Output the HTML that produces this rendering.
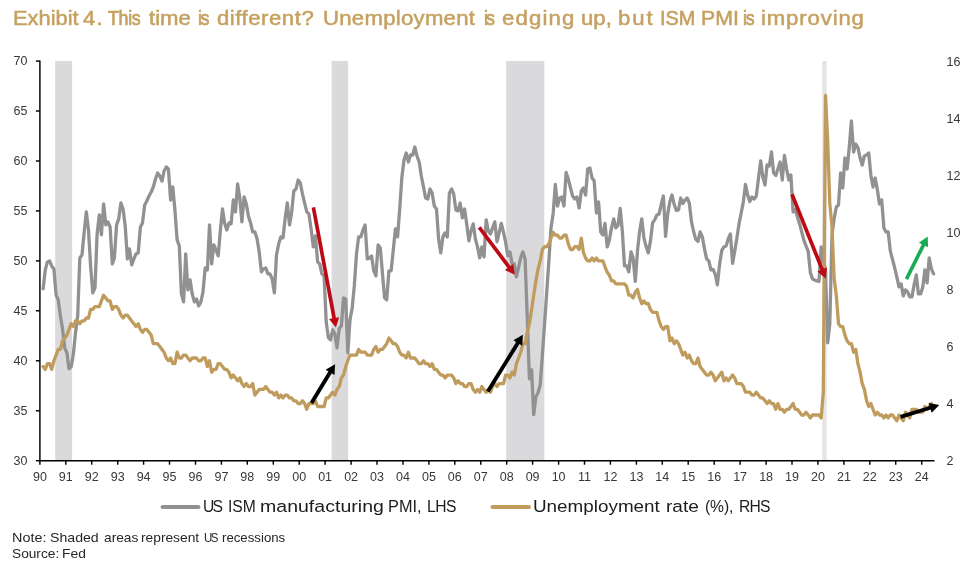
<!DOCTYPE html>
<html><head><meta charset="utf-8"><title>Exhibit 4</title>
<style>
html,body{margin:0;padding:0;background:#fff;}
body{width:972px;height:569px;overflow:hidden;position:relative;font-family:"Liberation Sans",sans-serif;}
.w{position:absolute;white-space:nowrap;line-height:normal;transform-origin:0 0;}
svg{position:absolute;left:0;top:0;will-change:transform;}
svg text{font-family:"Liberation Sans",sans-serif;font-size:12.5px;fill:#383838;}
</style></head><body>
<svg width="972" height="569" viewBox="0 0 972 569">
<rect x="55.2" y="61" width="16.9" height="399.7" fill="#dadadc"/><rect x="331.6" y="61" width="16.5" height="399.7" fill="#dadadc"/><rect x="506.2" y="61" width="38.1" height="399.7" fill="#dadadc"/><rect x="822.3" y="61" width="4.4" height="399.7" fill="#e4e4e6"/>
<g stroke="#000" stroke-width="1.45" fill="none">
<line x1="39.9" y1="60.5" x2="39.9" y2="460.7"/>
<line x1="39.2" y1="460.7" x2="934.5" y2="460.7"/>
<line x1="39.9" y1="460.7" x2="39.9" y2="464.7"/><line x1="65.8" y1="460.7" x2="65.8" y2="464.7"/><line x1="91.7" y1="460.7" x2="91.7" y2="464.7"/><line x1="117.7" y1="460.7" x2="117.7" y2="464.7"/><line x1="143.6" y1="460.7" x2="143.6" y2="464.7"/><line x1="169.5" y1="460.7" x2="169.5" y2="464.7"/><line x1="195.5" y1="460.7" x2="195.5" y2="464.7"/><line x1="221.4" y1="460.7" x2="221.4" y2="464.7"/><line x1="247.3" y1="460.7" x2="247.3" y2="464.7"/><line x1="273.3" y1="460.7" x2="273.3" y2="464.7"/><line x1="299.2" y1="460.7" x2="299.2" y2="464.7"/><line x1="325.1" y1="460.7" x2="325.1" y2="464.7"/><line x1="351.1" y1="460.7" x2="351.1" y2="464.7"/><line x1="377.0" y1="460.7" x2="377.0" y2="464.7"/><line x1="403.0" y1="460.7" x2="403.0" y2="464.7"/><line x1="428.9" y1="460.7" x2="428.9" y2="464.7"/><line x1="454.8" y1="460.7" x2="454.8" y2="464.7"/><line x1="480.8" y1="460.7" x2="480.8" y2="464.7"/><line x1="506.7" y1="460.7" x2="506.7" y2="464.7"/><line x1="532.6" y1="460.7" x2="532.6" y2="464.7"/><line x1="558.6" y1="460.7" x2="558.6" y2="464.7"/><line x1="584.5" y1="460.7" x2="584.5" y2="464.7"/><line x1="610.4" y1="460.7" x2="610.4" y2="464.7"/><line x1="636.4" y1="460.7" x2="636.4" y2="464.7"/><line x1="662.3" y1="460.7" x2="662.3" y2="464.7"/><line x1="688.2" y1="460.7" x2="688.2" y2="464.7"/><line x1="714.2" y1="460.7" x2="714.2" y2="464.7"/><line x1="740.1" y1="460.7" x2="740.1" y2="464.7"/><line x1="766.1" y1="460.7" x2="766.1" y2="464.7"/><line x1="792.0" y1="460.7" x2="792.0" y2="464.7"/><line x1="817.9" y1="460.7" x2="817.9" y2="464.7"/><line x1="843.9" y1="460.7" x2="843.9" y2="464.7"/><line x1="869.8" y1="460.7" x2="869.8" y2="464.7"/><line x1="895.7" y1="460.7" x2="895.7" y2="464.7"/><line x1="921.7" y1="460.7" x2="921.7" y2="464.7"/><line x1="35.9" y1="460.7" x2="39.9" y2="460.7"/><line x1="35.9" y1="410.8" x2="39.9" y2="410.8"/><line x1="35.9" y1="360.8" x2="39.9" y2="360.8"/><line x1="35.9" y1="310.8" x2="39.9" y2="310.8"/><line x1="35.9" y1="260.9" x2="39.9" y2="260.9"/><line x1="35.9" y1="210.9" x2="39.9" y2="210.9"/><line x1="35.9" y1="161.0" x2="39.9" y2="161.0"/><line x1="35.9" y1="111.0" x2="39.9" y2="111.0"/><line x1="35.9" y1="61.1" x2="39.9" y2="61.1"/>
</g>
<path d="M43.1 288.9 L45.3 269.9 L47.4 261.9 L49.6 260.9 L51.7 265.9 L53.9 268.9 L56.1 294.9 L58.2 299.9 L60.4 315.8 L62.5 328.8 L64.7 347.8 L66.9 352.8 L69.0 368.8 L71.2 366.8 L73.4 353.8 L75.5 332.8 L77.7 315.8 L79.8 257.9 L82.0 254.9 L84.2 231.9 L86.3 211.9 L88.5 229.9 L90.6 265.9 L92.8 292.9 L95.0 287.9 L97.1 233.9 L99.3 214.9 L101.4 234.9 L103.6 204.0 L105.8 224.9 L107.9 221.9 L110.1 226.9 L112.3 263.9 L114.4 257.9 L116.6 224.9 L118.7 218.9 L120.9 203.0 L123.1 209.0 L125.2 225.9 L127.4 258.9 L129.5 248.9 L131.7 264.9 L133.9 258.9 L136.0 253.9 L138.2 252.9 L140.4 226.9 L142.5 222.9 L144.7 205.0 L146.8 201.0 L149.0 196.0 L151.2 192.0 L153.3 187.0 L155.5 179.0 L157.6 173.0 L159.8 176.0 L162.0 181.0 L164.1 171.0 L166.3 167.0 L168.4 169.0 L170.6 200.0 L172.8 187.0 L174.9 210.0 L177.1 239.9 L179.3 245.9 L181.4 293.9 L183.6 301.9 L185.7 253.9 L187.9 289.9 L190.1 279.9 L192.2 293.9 L194.4 301.9 L196.5 298.9 L198.7 305.9 L200.9 301.9 L203.0 291.9 L205.2 267.9 L207.4 269.9 L209.5 224.9 L211.7 263.9 L213.8 244.9 L216.0 249.9 L218.2 255.9 L220.3 230.9 L222.5 209.0 L224.6 222.9 L226.8 229.9 L229.0 222.9 L231.1 223.9 L233.3 200.0 L235.5 211.9 L237.6 184.0 L239.8 198.0 L241.9 221.9 L244.1 197.0 L246.3 204.0 L248.4 215.9 L250.6 222.9 L252.7 231.9 L254.9 231.9 L257.1 238.9 L259.2 251.9 L261.4 271.9 L263.5 268.9 L265.7 267.9 L267.9 273.9 L270.0 273.9 L272.2 278.9 L274.4 292.9 L276.5 254.9 L278.7 243.9 L280.8 236.9 L283.0 237.9 L285.2 217.9 L287.3 203.0 L289.5 224.9 L291.6 212.9 L293.8 191.0 L296.0 189.0 L298.1 180.0 L300.3 183.0 L302.5 194.0 L304.6 203.0 L306.8 211.9 L308.9 213.9 L311.1 228.9 L313.3 246.9 L315.4 235.9 L317.6 261.9 L319.7 263.9 L321.9 273.9 L324.1 275.9 L326.2 321.8 L328.4 337.8 L330.5 339.8 L332.7 329.8 L334.9 333.8 L337.0 347.8 L339.2 328.8 L341.4 325.8 L343.5 297.9 L345.7 298.9 L347.8 352.8 L350.0 319.8 L352.2 307.9 L354.3 285.9 L356.5 253.9 L358.6 236.9 L360.8 236.9 L363.0 229.9 L365.1 224.9 L367.3 258.9 L369.5 257.9 L371.6 255.9 L373.8 270.9 L375.9 275.9 L378.1 244.9 L380.3 247.9 L382.4 272.9 L384.6 297.9 L386.7 299.9 L388.9 270.9 L391.1 270.9 L393.2 250.9 L395.4 228.9 L397.6 236.9 L399.7 209.0 L401.9 177.0 L404.0 160.0 L406.2 153.0 L408.4 162.0 L410.5 155.0 L412.7 155.0 L414.8 147.0 L417.0 156.0 L419.2 162.0 L421.3 176.0 L423.5 187.0 L425.6 198.0 L427.8 199.0 L430.0 189.0 L432.1 193.0 L434.3 206.0 L436.5 209.0 L438.6 238.9 L440.8 252.9 L442.9 236.9 L445.1 232.9 L447.3 236.9 L449.4 193.0 L451.6 189.0 L453.7 194.0 L455.9 210.0 L458.1 210.9 L460.2 203.0 L462.4 217.9 L464.6 209.0 L466.7 223.9 L468.9 240.9 L471.0 230.9 L473.2 223.9 L475.4 238.9 L477.5 246.9 L479.7 257.9 L481.8 246.9 L484.0 256.9 L486.2 219.9 L488.3 230.9 L490.5 233.9 L492.6 227.9 L494.8 221.9 L497.0 241.9 L499.1 232.9 L501.3 223.4 L503.5 232.4 L505.6 241.9 L507.8 255.9 L509.9 251.9 L512.1 263.9 L514.3 263.9 L516.4 276.9 L518.6 267.4 L520.7 257.9 L522.9 251.9 L525.1 258.9 L527.2 315.8 L529.4 378.8 L531.6 369.8 L533.7 414.7 L535.9 396.8 L538.0 392.8 L540.2 384.8 L542.4 354.8 L544.5 324.8 L546.7 292.9 L548.8 261.9 L551.0 227.9 L553.2 212.9 L555.3 184.5 L557.5 206.0 L559.7 198.0 L561.8 197.0 L564.0 206.0 L566.1 172.5 L568.3 179.0 L570.5 188.0 L572.6 196.0 L574.8 199.0 L576.9 197.0 L579.1 208.0 L581.3 191.0 L583.4 188.0 L585.6 195.0 L587.7 169.0 L589.9 168.0 L592.1 178.0 L594.2 181.0 L596.4 212.9 L598.6 202.0 L600.7 231.9 L602.9 234.9 L605.0 223.4 L607.2 246.9 L609.4 239.9 L611.5 227.9 L613.7 218.9 L615.8 227.9 L618.0 225.4 L620.2 208.5 L622.3 230.9 L624.5 265.9 L626.7 265.9 L628.8 271.9 L631.0 251.9 L633.1 257.9 L635.3 281.4 L637.5 250.9 L639.6 231.4 L641.8 218.9 L643.9 237.9 L646.1 246.4 L648.3 252.9 L650.4 241.4 L652.6 222.9 L654.7 219.9 L656.9 214.9 L659.1 213.9 L661.2 204.5 L663.4 196.0 L665.6 236.4 L667.7 213.9 L669.9 201.5 L672.0 195.0 L674.2 204.5 L676.4 210.5 L678.5 210.0 L680.7 198.0 L682.8 203.5 L685.0 200.0 L687.2 198.0 L689.3 203.0 L691.5 221.9 L693.7 231.9 L695.8 239.4 L698.0 241.4 L700.1 231.9 L702.3 236.9 L704.5 248.9 L706.6 258.9 L708.8 260.9 L710.9 269.9 L713.1 269.4 L715.3 274.4 L717.4 284.9 L719.6 263.9 L721.8 250.4 L723.9 246.9 L726.1 245.9 L728.2 238.9 L730.4 233.9 L732.6 263.4 L734.7 251.4 L736.9 237.9 L739.0 223.9 L741.2 212.9 L743.4 201.5 L745.5 184.5 L747.7 195.0 L749.8 201.5 L752.0 197.0 L754.2 199.0 L756.3 196.0 L758.5 178.0 L760.7 161.0 L762.8 177.0 L765.0 185.0 L767.1 165.0 L769.3 166.0 L771.5 152.0 L773.6 173.0 L775.8 175.5 L777.9 169.0 L780.1 162.0 L782.3 180.0 L784.4 155.5 L786.6 169.0 L788.8 180.0 L790.9 175.0 L793.1 211.9 L795.2 209.5 L797.4 216.9 L799.6 223.9 L801.7 231.9 L803.9 240.4 L806.0 245.9 L808.2 251.4 L810.4 272.9 L812.5 278.9 L814.7 279.9 L816.8 280.9 L819.0 281.4 L821.2 246.9 L823.3 259.9 L825.5 269.9 L827.7 342.8 L829.8 323.8 L832.0 234.9 L834.1 218.9 L836.3 207.0 L838.5 205.0 L840.6 173.0 L842.8 188.0 L844.9 158.0 L847.1 169.0 L849.3 147.0 L851.4 121.0 L853.6 152.0 L855.8 144.0 L857.9 147.5 L860.1 158.0 L862.2 165.0 L864.4 156.0 L866.6 155.0 L868.7 153.0 L870.9 175.5 L873.0 187.0 L875.2 178.0 L877.4 190.0 L879.5 204.0 L881.7 200.0 L883.9 227.9 L886.0 231.9 L888.2 231.9 L890.3 250.9 L892.5 259.4 L894.7 267.9 L896.8 276.9 L899.0 286.9 L901.1 283.9 L903.3 295.9 L905.5 289.9 L907.6 291.9 L909.8 296.9 L911.9 296.9 L914.1 284.9 L916.3 274.9 L918.4 293.9 L920.6 293.9 L922.8 286.9 L924.9 269.9 L927.1 282.9 L929.2 257.9 L931.4 268.9 L933.6 273.9" fill="none" stroke="#919191" stroke-width="3.3" stroke-linejoin="round" stroke-linecap="round"/>
<path d="M43.1 366.5 L45.3 369.4 L47.4 363.7 L49.6 363.7 L51.7 369.4 L53.9 360.8 L56.1 355.1 L58.2 349.4 L60.4 349.4 L62.5 340.8 L64.7 338.0 L66.9 335.1 L69.0 329.4 L71.2 323.7 L73.4 326.6 L75.5 320.9 L77.7 320.9 L79.8 323.7 L82.0 320.9 L84.2 320.9 L86.3 318.0 L88.5 318.0 L90.6 309.4 L92.8 309.4 L95.0 306.6 L97.1 306.6 L99.3 306.6 L101.4 300.9 L103.6 295.2 L105.8 298.0 L107.9 300.9 L110.1 300.9 L112.3 309.4 L114.4 306.6 L116.6 306.6 L118.7 309.4 L120.9 315.1 L123.1 318.0 L125.2 315.1 L127.4 315.1 L129.5 318.0 L131.7 320.9 L133.9 323.7 L136.0 326.6 L138.2 323.7 L140.4 329.4 L142.5 332.3 L144.7 329.4 L146.8 329.4 L149.0 332.3 L151.2 335.1 L153.3 343.7 L155.5 343.7 L157.6 343.7 L159.8 346.5 L162.0 349.4 L164.1 352.2 L166.3 358.0 L168.4 360.8 L170.6 358.0 L172.8 363.7 L174.9 363.7 L177.1 352.2 L179.3 358.0 L181.4 358.0 L183.6 355.1 L185.7 355.1 L187.9 358.0 L190.1 360.8 L192.2 358.0 L194.4 358.0 L196.5 358.0 L198.7 360.8 L200.9 360.8 L203.0 358.0 L205.2 358.0 L207.4 366.5 L209.5 360.8 L211.7 372.2 L213.8 369.4 L216.0 369.4 L218.2 363.7 L220.3 363.7 L222.5 366.5 L224.6 369.4 L226.8 369.4 L229.0 372.2 L231.1 377.9 L233.3 375.1 L235.5 377.9 L237.6 380.8 L239.8 377.9 L241.9 383.6 L244.1 386.5 L246.3 383.6 L248.4 386.5 L250.6 386.5 L252.7 383.6 L254.9 395.1 L257.1 392.2 L259.2 389.4 L261.4 389.4 L263.5 389.4 L265.7 386.5 L267.9 389.4 L270.0 392.2 L272.2 392.2 L274.4 395.1 L276.5 392.2 L278.7 397.9 L280.8 395.1 L283.0 397.9 L285.2 395.1 L287.3 395.1 L289.5 397.9 L291.6 397.9 L293.8 400.8 L296.0 400.8 L298.1 403.6 L300.3 403.6 L302.5 400.8 L304.6 403.6 L306.8 409.3 L308.9 403.6 L311.1 403.6 L313.3 403.6 L315.4 400.8 L317.6 406.5 L319.7 406.5 L321.9 406.5 L324.1 406.5 L326.2 397.9 L328.4 397.9 L330.5 395.1 L332.7 392.2 L334.9 395.1 L337.0 389.4 L339.2 386.5 L341.4 377.9 L343.5 375.1 L345.7 366.5 L347.8 360.8 L350.0 355.1 L352.2 355.1 L354.3 355.1 L356.5 355.1 L358.6 349.4 L360.8 352.2 L363.0 352.2 L365.1 352.2 L367.3 355.1 L369.5 355.1 L371.6 355.1 L373.8 349.4 L375.9 346.5 L378.1 352.2 L380.3 349.4 L382.4 349.4 L384.6 346.5 L386.7 343.7 L388.9 338.0 L391.1 340.8 L393.2 343.7 L395.4 343.7 L397.6 346.5 L399.7 352.2 L401.9 355.1 L404.0 355.1 L406.2 358.0 L408.4 352.2 L410.5 358.0 L412.7 358.0 L414.8 358.0 L417.0 360.8 L419.2 363.7 L421.3 363.7 L423.5 360.8 L425.6 363.7 L427.8 363.7 L430.0 366.5 L432.1 363.7 L434.3 369.4 L436.5 369.4 L438.6 372.2 L440.8 375.1 L442.9 375.1 L445.1 377.9 L447.3 375.1 L449.4 375.1 L451.6 375.1 L453.7 377.9 L455.9 383.6 L458.1 380.8 L460.2 383.6 L462.4 383.6 L464.6 386.5 L466.7 386.5 L468.9 383.6 L471.0 383.6 L473.2 389.4 L475.4 392.2 L477.5 389.4 L479.7 392.2 L481.8 386.5 L484.0 389.4 L486.2 392.2 L488.3 389.4 L490.5 392.2 L492.6 386.5 L494.8 383.6 L497.0 386.5 L499.1 383.6 L501.3 383.6 L503.5 383.6 L505.6 375.1 L507.8 375.1 L509.9 377.9 L512.1 372.2 L514.3 375.1 L516.4 363.7 L518.6 358.0 L520.7 352.2 L522.9 343.7 L525.1 343.7 L527.2 332.3 L529.4 323.7 L531.6 309.4 L533.7 295.2 L535.9 280.9 L538.0 269.5 L540.2 260.9 L542.4 249.5 L544.5 246.7 L546.7 246.7 L548.8 243.8 L551.0 238.1 L553.2 232.4 L555.3 235.2 L557.5 235.2 L559.7 238.1 L561.8 238.1 L564.0 235.2 L566.1 235.2 L568.3 243.8 L570.5 249.5 L572.6 249.5 L574.8 246.7 L576.9 246.7 L579.1 249.5 L581.3 238.1 L583.4 252.4 L585.6 258.1 L587.7 260.9 L589.9 260.9 L592.1 258.1 L594.2 260.9 L596.4 258.1 L598.6 260.9 L600.7 260.9 L602.9 260.9 L605.0 266.6 L607.2 272.3 L609.4 275.2 L611.5 280.9 L613.7 280.9 L615.8 283.8 L618.0 283.8 L620.2 283.8 L622.3 283.8 L624.5 283.8 L626.7 286.6 L628.8 295.2 L631.0 295.2 L633.1 298.0 L635.3 292.3 L637.5 289.5 L639.6 298.0 L641.8 303.7 L643.9 300.9 L646.1 303.7 L648.3 303.7 L650.4 309.4 L652.6 312.3 L654.7 312.3 L656.9 312.3 L659.1 320.9 L661.2 326.6 L663.4 329.4 L665.6 326.6 L667.7 326.6 L669.9 340.8 L672.0 338.0 L674.2 343.7 L676.4 340.8 L678.5 343.7 L680.7 349.4 L682.8 355.1 L685.0 352.2 L687.2 358.0 L689.3 355.1 L691.5 360.8 L693.7 363.7 L695.8 363.7 L698.0 358.0 L700.1 366.5 L702.3 369.4 L704.5 372.2 L706.6 375.1 L708.8 375.1 L710.9 372.2 L713.1 375.1 L715.3 380.8 L717.4 377.9 L719.6 375.1 L721.8 372.2 L723.9 380.8 L726.1 377.9 L728.2 380.8 L730.4 377.9 L732.6 375.1 L734.7 377.9 L736.9 383.6 L739.0 383.6 L741.2 383.6 L743.4 386.5 L745.5 392.2 L747.7 392.2 L749.8 392.2 L752.0 395.1 L754.2 395.1 L756.3 392.2 L758.5 395.1 L760.7 397.9 L762.8 397.9 L765.0 400.8 L767.1 403.6 L769.3 400.8 L771.5 403.6 L773.6 403.6 L775.8 409.3 L777.9 403.6 L780.1 409.3 L782.3 409.3 L784.4 412.2 L786.6 409.3 L788.8 409.3 L790.9 406.5 L793.1 403.6 L795.2 409.3 L797.4 409.3 L799.6 412.2 L801.7 415.0 L803.9 415.0 L806.0 412.2 L808.2 415.0 L810.4 417.9 L812.5 415.0 L814.7 415.0 L816.8 415.0 L819.0 415.0 L821.2 417.9 L823.3 392.2 L825.5 95.4 L827.7 141.1 L829.8 203.8 L832.0 226.7 L834.1 278.0 L836.3 295.2 L838.5 323.7 L840.6 326.6 L842.8 326.6 L844.9 335.1 L847.1 340.8 L849.3 343.7 L851.4 343.7 L853.6 352.2 L855.8 349.4 L857.9 363.7 L860.1 372.2 L862.2 383.6 L864.4 389.4 L866.6 400.8 L868.7 406.5 L870.9 403.6 L873.0 409.3 L875.2 415.0 L877.4 412.2 L879.5 415.0 L881.7 415.0 L883.9 417.9 L886.0 415.0 L888.2 417.9 L890.3 415.0 L892.5 415.0 L894.7 417.9 L896.8 420.7 L899.0 415.0 L901.1 417.9 L903.3 420.7 L905.5 412.2 L907.6 415.0 L909.8 417.9 L911.9 409.3 L914.1 409.3 L916.3 409.3 L918.4 412.2 L920.6 412.2 L922.8 412.2 L924.9 406.5 L927.1 409.3 L929.2 406.5 L931.4 403.6" fill="none" stroke="#bf9c5e" stroke-width="3.3" stroke-linejoin="round" stroke-linecap="round"/>
<line x1="313.4" y1="207.3" x2="334.3" y2="319.1" stroke="#bd0a14" stroke-width="3.7"/><polygon points="335.9,327.6 329.0,319.1 339.2,317.2" fill="#bd0a14"/><line x1="311.5" y1="403.0" x2="330.6" y2="371.6" stroke="#000000" stroke-width="3.9"/><polygon points="335.1,364.2 334.5,375.1 325.6,369.7" fill="#000000"/><line x1="479.2" y1="227.3" x2="509.6" y2="267.8" stroke="#bd0a14" stroke-width="3.7"/><polygon points="514.8,274.7 504.9,270.1 513.2,263.9" fill="#bd0a14"/><line x1="487.8" y1="391.5" x2="518.4" y2="342.1" stroke="#000000" stroke-width="3.9"/><polygon points="522.9,334.8 522.3,345.7 513.4,340.2" fill="#000000"/><line x1="792.0" y1="194.2" x2="822.5" y2="270.4" stroke="#bd0a14" stroke-width="3.7"/><polygon points="825.7,278.4 817.3,271.4 827.0,267.6" fill="#bd0a14"/><line x1="906.4" y1="279.1" x2="923.9" y2="244.1" stroke="#1aab55" stroke-width="3.6"/><polygon points="927.7,236.4 928.1,247.3 918.8,242.7" fill="#1aab55"/><line x1="900.6" y1="416.9" x2="931.1" y2="407.5" stroke="#000000" stroke-width="3.9"/><polygon points="939.3,405.0 931.7,412.8 928.6,402.9" fill="#000000"/>
<text x="39.9" y="481.4" text-anchor="middle">90</text><text x="65.8" y="481.4" text-anchor="middle">91</text><text x="91.7" y="481.4" text-anchor="middle">92</text><text x="117.7" y="481.4" text-anchor="middle">93</text><text x="143.6" y="481.4" text-anchor="middle">94</text><text x="169.5" y="481.4" text-anchor="middle">95</text><text x="195.5" y="481.4" text-anchor="middle">96</text><text x="221.4" y="481.4" text-anchor="middle">97</text><text x="247.3" y="481.4" text-anchor="middle">98</text><text x="273.3" y="481.4" text-anchor="middle">99</text><text x="299.2" y="481.4" text-anchor="middle">00</text><text x="325.1" y="481.4" text-anchor="middle">01</text><text x="351.1" y="481.4" text-anchor="middle">02</text><text x="377.0" y="481.4" text-anchor="middle">03</text><text x="403.0" y="481.4" text-anchor="middle">04</text><text x="428.9" y="481.4" text-anchor="middle">05</text><text x="454.8" y="481.4" text-anchor="middle">06</text><text x="480.8" y="481.4" text-anchor="middle">07</text><text x="506.7" y="481.4" text-anchor="middle">08</text><text x="532.6" y="481.4" text-anchor="middle">09</text><text x="558.6" y="481.4" text-anchor="middle">10</text><text x="584.5" y="481.4" text-anchor="middle">11</text><text x="610.4" y="481.4" text-anchor="middle">12</text><text x="636.4" y="481.4" text-anchor="middle">13</text><text x="662.3" y="481.4" text-anchor="middle">14</text><text x="688.2" y="481.4" text-anchor="middle">15</text><text x="714.2" y="481.4" text-anchor="middle">16</text><text x="740.1" y="481.4" text-anchor="middle">17</text><text x="766.1" y="481.4" text-anchor="middle">18</text><text x="792.0" y="481.4" text-anchor="middle">19</text><text x="817.9" y="481.4" text-anchor="middle">20</text><text x="843.9" y="481.4" text-anchor="middle">21</text><text x="869.8" y="481.4" text-anchor="middle">22</text><text x="895.7" y="481.4" text-anchor="middle">23</text><text x="921.7" y="481.4" text-anchor="middle">24</text><text x="27.5" y="465.0" text-anchor="end">30</text><text x="27.5" y="415.1" text-anchor="end">35</text><text x="27.5" y="365.1" text-anchor="end">40</text><text x="27.5" y="315.1" text-anchor="end">45</text><text x="27.5" y="265.2" text-anchor="end">50</text><text x="27.5" y="215.2" text-anchor="end">55</text><text x="27.5" y="165.3" text-anchor="end">60</text><text x="27.5" y="115.3" text-anchor="end">65</text><text x="27.5" y="65.4" text-anchor="end">70</text><text x="946.5" y="465.2">2</text><text x="946.5" y="408.1">4</text><text x="946.5" y="351.0">6</text><text x="946.5" y="294.0">8</text><text x="946.5" y="236.9">10</text><text x="946.5" y="179.8">12</text><text x="946.5" y="122.7">14</text><text x="946.5" y="65.6">16</text>
<line x1="162.6" y1="507" x2="198.4" y2="507" stroke="#919191" stroke-width="4.2" stroke-linecap="round"/>
<line x1="492.6" y1="507" x2="528.9" y2="507" stroke="#bf9c5e" stroke-width="4.2" stroke-linecap="round"/>
</svg>
<span class="w" style="left:12.50px;top:7.26px;font-size:19.8px;color:#c5a160;-webkit-text-stroke:0.51px #c5a160;letter-spacing:-0.000px;transform:scaleX(1.1040)">Exhibit</span><span class="w" style="left:83.10px;top:7.26px;font-size:19.8px;color:#c5a160;-webkit-text-stroke:0.49px #c5a160;letter-spacing:1.159px;transform:scaleX(1.1200)">4.</span><span class="w" style="left:108.00px;top:7.26px;font-size:19.8px;color:#c5a160;-webkit-text-stroke:0.69px #c5a160;letter-spacing:-0.345px;transform:scaleX(0.9000)">This</span><span class="w" style="left:148.70px;top:7.26px;font-size:19.8px;color:#c5a160;-webkit-text-stroke:0.49px #c5a160;letter-spacing:0.014px;transform:scaleX(1.1200)">time</span><span class="w" style="left:197.60px;top:7.26px;font-size:19.8px;color:#c5a160;-webkit-text-stroke:0.69px #c5a160;letter-spacing:-1.728px;transform:scaleX(0.9000)">is</span><span class="w" style="left:217.40px;top:7.26px;font-size:19.8px;color:#c5a160;-webkit-text-stroke:0.49px #c5a160;letter-spacing:0.469px;transform:scaleX(1.1200)">different?</span><span class="w" style="left:322.68px;top:7.26px;font-size:19.8px;color:#c5a160;-webkit-text-stroke:0.49px #c5a160;letter-spacing:0.240px;transform:scaleX(1.1200)">Unemployment</span><span class="w" style="left:483.80px;top:7.26px;font-size:19.8px;color:#c5a160;-webkit-text-stroke:0.69px #c5a160;letter-spacing:-2.061px;transform:scaleX(0.9000)">is</span><span class="w" style="left:502.30px;top:7.26px;font-size:19.8px;color:#c5a160;-webkit-text-stroke:0.49px #c5a160;letter-spacing:1.052px;transform:scaleX(1.1200)">edging</span><span class="w" style="left:581.08px;top:7.26px;font-size:19.8px;color:#c5a160;-webkit-text-stroke:0.49px #c5a160;letter-spacing:0.000px;transform:scaleX(1.1199)">up,</span><span class="w" style="left:618.38px;top:7.26px;font-size:19.8px;color:#c5a160;-webkit-text-stroke:0.49px #c5a160;letter-spacing:1.766px;transform:scaleX(1.1200)">but</span><span class="w" style="left:659.50px;top:7.26px;font-size:19.8px;color:#c5a160;-webkit-text-stroke:0.60px #c5a160;letter-spacing:0.000px;transform:scaleX(1.0034)">ISM</span><span class="w" style="left:701.23px;top:7.26px;font-size:19.8px;color:#c5a160;-webkit-text-stroke:0.53px #c5a160;letter-spacing:0.000px;transform:scaleX(1.0743)">PMI</span><span class="w" style="left:742.60px;top:7.26px;font-size:19.8px;color:#c5a160;-webkit-text-stroke:0.69px #c5a160;letter-spacing:-1.284px;transform:scaleX(0.9000)">is</span><span class="w" style="left:761.18px;top:7.26px;font-size:19.8px;color:#c5a160;-webkit-text-stroke:0.49px #c5a160;letter-spacing:0.770px;transform:scaleX(1.1200)">improving</span><span class="w" style="left:203.00px;top:495.87px;font-size:17.4px;color:#1c1c1c;letter-spacing:-2.003px;transform:scaleX(0.9000)">US</span><span class="w" style="left:227.50px;top:495.87px;font-size:17.4px;color:#1c1c1c;letter-spacing:-0.049px;transform:scaleX(0.9000)">ISM</span><span class="w" style="left:260.18px;top:495.87px;font-size:17.4px;color:#1c1c1c;letter-spacing:0.033px;transform:scaleX(1.1200)">manufacturing</span><span class="w" style="left:388.46px;top:495.87px;font-size:17.4px;color:#1c1c1c;letter-spacing:0.000px;transform:scaleX(0.9376)">PMI,</span><span class="w" style="left:427.10px;top:495.87px;font-size:17.4px;color:#1c1c1c;letter-spacing:-0.504px;transform:scaleX(0.9000)">LHS</span><span class="w" style="left:533.32px;top:495.87px;font-size:17.4px;color:#1c1c1c;letter-spacing:0.000px;transform:scaleX(1.0842)">Unemployment</span><span class="w" style="left:665.50px;top:495.87px;font-size:17.4px;color:#1c1c1c;letter-spacing:0.000px;transform:scaleX(1.0956)">rate</span><span class="w" style="left:705.30px;top:495.87px;font-size:17.4px;color:#1c1c1c;letter-spacing:-0.126px;transform:scaleX(0.9000)">(%),</span><span class="w" style="left:739.20px;top:495.87px;font-size:17.4px;color:#1c1c1c;letter-spacing:-0.948px;transform:scaleX(0.9000)">RHS</span><span class="w" style="left:11.58px;top:530.31px;font-size:12.8px;color:#262626;letter-spacing:0.041px;transform:scaleX(1.1200)">Note:</span><span class="w" style="left:49.80px;top:530.31px;font-size:12.8px;color:#262626;letter-spacing:-0.000px;transform:scaleX(1.1045)">Shaded</span><span class="w" style="left:103.80px;top:530.31px;font-size:12.8px;color:#262626;letter-spacing:0.000px;transform:scaleX(1.0724)">areas</span><span class="w" style="left:140.80px;top:530.31px;font-size:12.8px;color:#262626;letter-spacing:-0.000px;transform:scaleX(1.0751)">represent</span><span class="w" style="left:204.00px;top:530.31px;font-size:12.8px;color:#262626;letter-spacing:-1.797px;transform:scaleX(0.9000)">US</span><span class="w" style="left:221.50px;top:530.31px;font-size:12.8px;color:#262626;letter-spacing:0.000px;transform:scaleX(1.0334)">recessions</span><span class="w" style="left:12.40px;top:545.71px;font-size:12.8px;color:#262626;letter-spacing:0.000px;transform:scaleX(1.0701)">Source:</span><span class="w" style="left:62.22px;top:545.71px;font-size:12.8px;color:#262626;letter-spacing:0.000px;transform:scaleX(1.0844)">Fed</span>
</body></html>
